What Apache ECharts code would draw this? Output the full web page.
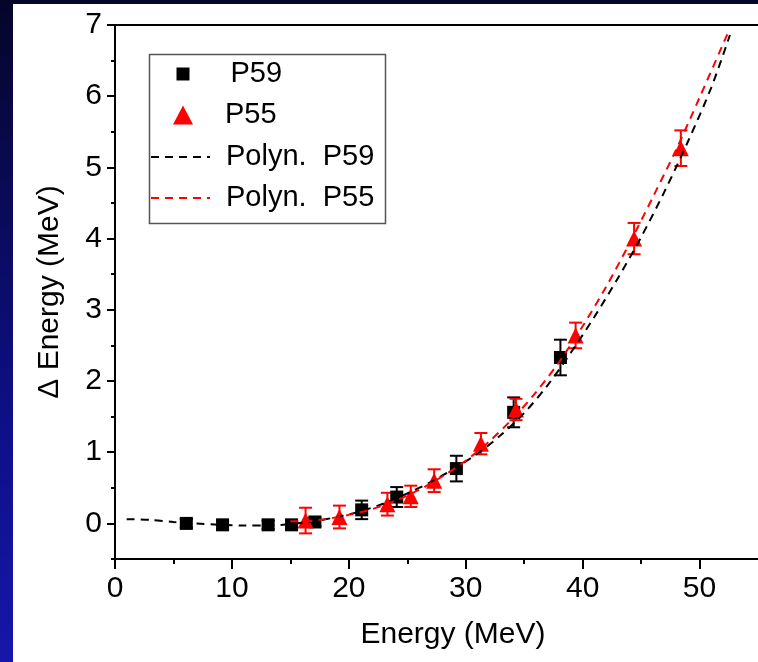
<!DOCTYPE html>
<html>
<head>
<meta charset="utf-8">
<script src="https://cdn.jsdelivr.net/npm/echarts@6/dist/echarts.min.js"></script>
<style>
html,body{margin:0;padding:0;}
body{width:758px;height:662px;overflow:hidden;position:relative;
 background:linear-gradient(to bottom,#05052a 0%,#0a0a58 30%,#0f0f88 65%,#1616aa 100%);}
#panel{position:absolute;left:13px;top:4px;width:745px;height:658px;background:#fff;}
#c{position:absolute;left:0;top:0;width:758px;height:662px;}
</style>
</head>
<body>
<div id="panel"></div>
<div id="c"></div>
<script>
// ---- data ----
const p59X   = [6.1, 9.2, 13.1, 15.1, 17.1, 21.1, 24.1, 29.2, 34.1, 38.1];
const p59Y   = [0.0, -0.02, -0.02, -0.02, 0.02, 0.19, 0.37, 0.77, 1.56, 2.33];
const p59Err = [0.06, 0.06, 0.06, 0.06, 0.06, 0.13, 0.14, 0.18, 0.21, 0.25];

const p55X   = [16.3, 19.2, 23.3, 25.3, 27.3, 31.3, 34.3, 39.4, 44.4, 48.4];
const p55Y   = [0.04, 0.09, 0.27, 0.38, 0.6, 1.12, 1.6, 2.64, 4.0, 5.27];
const p55Err = [0.18, 0.16, 0.16, 0.15, 0.16, 0.15, 0.15, 0.18, 0.22, 0.25];

const fitP59X = [1, 3, 5, 7, 9, 11, 13, 15, 17, 19, 21, 23, 25, 27, 29, 31, 33, 35, 37, 39, 41, 43, 45, 47, 49, 51, 52.6];
const fitP59Y = [0.06, 0.05, 0.02, 0.0, -0.02, -0.03, -0.03, -0.01, 0.03, 0.09, 0.17, 0.28, 0.42, 0.58, 0.77, 0.98, 1.24, 1.55, 1.94, 2.4, 2.9, 3.44, 4.02, 4.66, 5.36, 6.12, 6.86];

const fitP55X = [15, 16, 18, 20, 22, 24, 26, 28, 30, 32, 34, 36, 38, 40, 42, 44, 46, 48, 50, 52.4];
const fitP55Y = [0.03, 0.03, 0.06, 0.12, 0.2, 0.32, 0.47, 0.66, 0.88, 1.15, 1.47, 1.84, 2.27, 2.77, 3.32, 3.93, 4.58, 5.25, 5.98, 6.88];

const xMajor = [0, 10, 20, 30, 40, 50];
const xMinor = [5, 15, 25, 35, 45];
const yMajor = [0, 1, 2, 3, 4, 5, 6, 7];
const yMinor = [-0.5, 0.5, 1.5, 2.5, 3.5, 4.5, 5.5, 6.5];

const names = ['P59', 'P55', 'Polyn.  P59', 'Polyn.  P55'];
// --------------------------------------

const FONT = 'Liberation Sans, Arial, sans-serif';
const axisLineStyle = {color: '#000', width: 2};

function zip(xs, ys) { return xs.map((x, i) => [x, ys[i]]); }

function errSeries(xs, ys, es, color) {
  return {
    type: 'custom', z: 2, silent: true,
    data: xs.map((x, i) => [x, ys[i], es[i]]),
    encode: {x: 0, y: 1},
    renderItem: function (params, api) {
      const x = api.value(0), y = api.value(1), e = api.value(2);
      const t = api.coord([x, y + e]), b = api.coord([x, y - e]);
      const hw = 6.5;
      const st = {stroke: color, lineWidth: 2};
      return {type: 'group', children: [
        {type: 'line', shape: {x1: t[0], y1: t[1], x2: b[0], y2: b[1]}, style: st},
        {type: 'line', shape: {x1: t[0] - hw, y1: t[1], x2: t[0] + hw, y2: t[1]}, style: st},
        {type: 'line', shape: {x1: b[0] - hw, y1: b[1], x2: b[0] + hw, y2: b[1]}, style: st}
      ]};
    }
  };
}

const chart = echarts.init(document.getElementById('c'), null, {renderer: 'canvas'});
const legendText = {fontSize: 29, color: '#000', fontFamily: FONT};
chart.setOption({
  backgroundColor: 'transparent',
  animation: false,
  grid: {left: 115, top: 25, bottom: 103, right: 0, containLabel: false},
  graphic: [{
    type: 'rect', left: 147, top: 52, z: 1,
    shape: {width: 236, height: 169},
    style: {fill: null, stroke: '#555', lineWidth: 1.5}
  }],
  legend: [
    {data: [names[0]], left: 176.5, top: 59.5, padding: 0, selectedMode: false,
     itemWidth: 13, itemHeight: 13, itemStyle: {opacity: 1},
     textStyle: Object.assign({padding: [0, 0, 0, 36]}, legendText)},
    {data: [names[1]], left: 173, top: 100.5, padding: 0, selectedMode: false,
     itemWidth: 20, itemHeight: 19, itemStyle: {opacity: 1},
     textStyle: Object.assign({padding: [0, 0, 0, 27]}, legendText)},
    {data: [names[2], names[3]], left: 150, top: 142.5, padding: 0, orient: 'vertical', itemGap: 12,
     selectedMode: false, itemWidth: 59, itemHeight: 6, itemStyle: {opacity: 0},
     textStyle: Object.assign({padding: [0, 0, 0, 11]}, legendText)}
  ],
  xAxis: [
    {type: 'value', min: 0, max: 55, position: 'bottom',
     axisLine: {onZero: false, lineStyle: axisLineStyle},
     axisTick: {customValues: xMajor, length: 10, lineStyle: {color: '#000', width: 2}},
     axisLabel: {customValues: xMajor, margin: 15, fontSize: 30, color: '#000', fontFamily: FONT},
     splitLine: {show: false},
     name: 'Energy (MeV)', nameLocation: 'middle', nameGap: 61,
     nameTextStyle: {fontSize: 30, color: '#000', fontFamily: FONT, padding: [0, 0, 0, 33]}},
    {type: 'value', min: 0, max: 55, position: 'bottom',
     axisLine: {show: false, onZero: false},
     axisTick: {customValues: xMinor, length: 5, lineStyle: {color: '#000', width: 2}},
     axisLabel: {show: false}, splitLine: {show: false}},
    {type: 'value', min: 0, max: 55, position: 'top',
     axisLine: {show: true, onZero: false, lineStyle: axisLineStyle},
     axisTick: {show: false}, axisLabel: {show: false}, splitLine: {show: false}}
  ],
  yAxis: [
    {type: 'value', min: -0.5, max: 7, position: 'left',
     axisLine: {show: true, onZero: false, lineStyle: axisLineStyle},
     axisTick: {customValues: yMajor, length: 8, lineStyle: {color: '#000', width: 2}},
     axisLabel: {customValues: yMajor, margin: 13, fontSize: 30, color: '#000', fontFamily: FONT},
     splitLine: {show: false},
     name: '\u0394 Energy (MeV)', nameLocation: 'middle', nameGap: 50,
     nameTextStyle: {fontSize: 30, color: '#000', fontFamily: FONT}},
    {type: 'value', min: -0.5, max: 7, position: 'left',
     axisLine: {show: false, onZero: false},
     axisTick: {customValues: yMinor, length: 4, lineStyle: {color: '#000', width: 2}},
     axisLabel: {show: false}, splitLine: {show: false}}
  ],
  series: [
    errSeries(p59X, p59Y, p59Err, '#000'),
    {name: names[0], type: 'scatter', z: 3, symbol: 'rect', symbolSize: 13,
     itemStyle: {color: '#000', opacity: 1}, data: zip(p59X, p59Y)},
    errSeries(p55X, p55Y, p55Err, '#ff0000'),
    {name: names[1], type: 'scatter', z: 4, symbol: 'triangle', symbolSize: 16,
     itemStyle: {color: '#ff0000', opacity: 1}, data: zip(p55X, p55Y)},
    {name: names[2], type: 'line', z: 5, symbol: 'none', smooth: 0.3,
     lineStyle: {color: '#000', width: 2, type: [8, 6]}, itemStyle: {color: '#000'},
     data: zip(fitP59X, fitP59Y)},
    {name: names[3], type: 'line', z: 6, symbol: 'none', smooth: 0.3,
     lineStyle: {color: '#ff0000', width: 2, type: [8, 6]}, itemStyle: {color: '#ff0000'},
     data: zip(fitP55X, fitP55Y)}
  ]
});
</script>
</body>
</html>
